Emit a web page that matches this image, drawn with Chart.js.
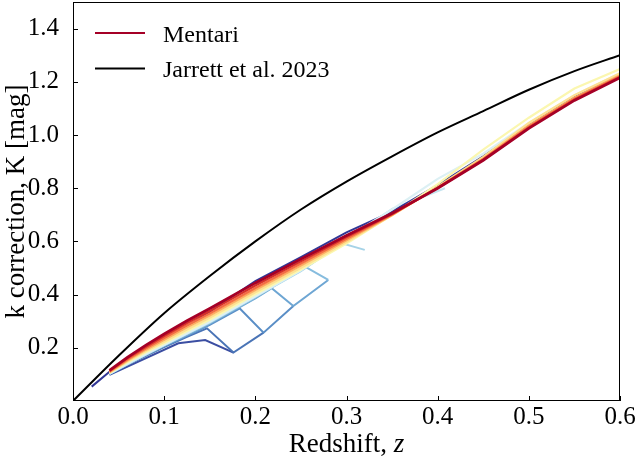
<!DOCTYPE html>
<html>
<head>
<meta charset="utf-8">
<script src="https://cdn.jsdelivr.net/npm/chart.js@4.4.1/dist/chart.umd.min.js"></script>
<style>
html,body{margin:0;padding:0;background:#fff}
#wrap{width:638px;height:464px}
</style>
</head>
<body>
<div id="wrap"><canvas id="kcorr"></canvas></div>
<script>
const SERIF = '"Liberation Serif", "DejaVu Serif", serif';

// Jarrett et al. 2023 relation
const jarrettZ = [0, 0.05, 0.1, 0.15, 0.2, 0.25, 0.3, 0.35, 0.4, 0.45, 0.5, 0.55, 0.6];
const jarrettK = [0, 0.17, 0.33, 0.47, 0.60, 0.72, 0.825, 0.92, 1.01, 1.09, 1.17, 1.24, 1.30];

// Mentari bundle, shared redshift grid
const zGrid = [0.04, 0.06, 0.08, 0.1, 0.125, 0.15, 0.2, 0.25, 0.3, 0.35, 0.4, 0.45, 0.5, 0.55, 0.6];
const kRed    = [0.115, 0.165, 0.210, 0.252, 0.302, 0.348, 0.444, 0.534, 0.622, 0.706, 0.800, 0.905, 1.025, 1.130, 1.215];
const kRed2   = [0.113, 0.161, 0.204, 0.244, 0.293, 0.338, 0.434, 0.525, 0.616, 0.703, 0.801, 0.907, 1.028, 1.133, 1.218];
const kOrange = [0.111, 0.157, 0.198, 0.237, 0.285, 0.329, 0.425, 0.517, 0.610, 0.701, 0.802, 0.909, 1.031, 1.136, 1.221];
const kApric  = [0.109, 0.153, 0.193, 0.230, 0.277, 0.321, 0.417, 0.509, 0.604, 0.699, 0.803, 0.912, 1.035, 1.140, 1.225];
const kSand   = [0.107, 0.149, 0.188, 0.223, 0.269, 0.313, 0.409, 0.501, 0.598, 0.698, 0.806, 0.918, 1.045, 1.150, 1.232];
const kPale   = [0.105, 0.146, 0.183, 0.217, 0.262, 0.305, 0.401, 0.494, 0.592, 0.700, 0.815, 0.945, 1.065, 1.175, 1.248];
const kIce    = [0.103, 0.142, 0.178, 0.211, 0.255, 0.298, 0.394, 0.492, 0.612, 0.720, 0.835, 0.930, 1.045, 1.150, 1.232];

// blue members (own redshift samples, incl. the drop-outs)
const navyZ = [0.0205, 0.04, 0.06, 0.08, 0.1, 0.125, 0.15, 0.2, 0.25, 0.3, 0.35, 0.4, 0.45, 0.5, 0.55, 0.6];
const navyK = [0.054, 0.110, 0.155, 0.195, 0.232, 0.280, 0.336, 0.451, 0.541, 0.634, 0.712, 0.812, 0.920, 1.040, 1.143, 1.224];
const blueAZ = [0.04, 0.1155, 0.145, 0.176];
const blueAK = [0.098, 0.217, 0.229, 0.182];
const blueBZ = [0.04, 0.06, 0.08, 0.1, 0.125, 0.147, 0.176, 0.209];
const blueBK = [0.100, 0.137, 0.170, 0.203, 0.241, 0.273, 0.182, 0.257];
const blueCZ = [0.04, 0.06, 0.08, 0.1, 0.125, 0.15, 0.183, 0.209, 0.2417];
const blueCK = [0.101, 0.138, 0.172, 0.205, 0.245, 0.286, 0.348, 0.257, 0.357];
const blueDZ = [0.04, 0.06, 0.08, 0.1, 0.125, 0.15, 0.2, 0.218, 0.2417, 0.28];
const blueDK = [0.101, 0.139, 0.174, 0.207, 0.248, 0.290, 0.386, 0.424, 0.357, 0.455];
const blueEZ = [0.04, 0.06, 0.08, 0.1, 0.125, 0.15, 0.2, 0.2545, 0.28];
const blueEK = [0.102, 0.140, 0.175, 0.209, 0.251, 0.293, 0.389, 0.505, 0.455];
const blueFZ = [0.04, 0.06, 0.08, 0.1, 0.125, 0.15, 0.2, 0.25, 0.295, 0.32];
const blueFK = [0.102, 0.140, 0.176, 0.210, 0.253, 0.295, 0.391, 0.488, 0.593, 0.568];
const blueGZ = [0.04, 0.1, 0.15, 0.2, 0.25, 0.3, 0.35, 0.408];
const blueGK = [0.103, 0.210, 0.297, 0.393, 0.490, 0.606, 0.722, 0.800];

const xTicks = [0, 0.1, 0.2, 0.3, 0.4, 0.5, 0.6];
const yTicks = [0.2, 0.4, 0.6, 0.8, 1.0, 1.2, 1.4];

const pts = (zs, ks) => ks.map((k, i) => ({x: zs[i], y: k}));
function line(data, color, width, label){
  return {label: label || '', data, borderColor: color, backgroundColor: color,
    borderWidth: width, pointRadius: 0, tension: 0, fill: false};
}

const datasets = [
  line(pts(zGrid, kRed), '#a50026', 2.8, 'Mentari'),
  Object.assign(line(pts(jarrettZ, jarrettK), '#000000', 2, 'Jarrett et al. 2023'), {cubicInterpolationMode: 'monotone'}),
  line(pts(zGrid, kRed2), '#d73027', 2.2),
  line(pts(zGrid, kOrange), '#f46d43', 2.2),
  line(pts(zGrid, kApric), '#fdae61', 2.2),
  line(pts(zGrid, kSand), '#fee090', 2.2),
  line(pts(zGrid, kPale), '#fbf7b0', 2.2),
  line(pts(zGrid, kIce), '#dcf0f4', 2.2),
  line(pts(navyZ, navyK), '#313695', 2),
  line(pts(blueGZ, blueGK), '#c4e4ef', 2),
  line(pts(blueFZ, blueFK), '#a6d3e7', 2),
  line(pts(blueEZ, blueEK), '#86bcde', 2),
  line(pts(blueDZ, blueDK), '#6ea6d3', 2),
  line(pts(blueCZ, blueCK), '#5a8ec6', 2),
  line(pts(blueBZ, blueBK), '#4a74b6', 2),
  line(pts(blueAZ, blueAK), '#3b4ea2', 2),
];

// frame, inward ticks, x title with italic z, legend
const decor = {
  id: 'decor',
  afterDraw(chart){
    const {ctx, chartArea: a, scales: {x, y}} = chart;
    ctx.save();
    ctx.strokeStyle = '#000'; ctx.lineWidth = 1;
    ctx.strokeRect(a.left + 0.5, a.top + 0.5, a.right - a.left - 1, a.bottom - a.top - 1);
    ctx.beginPath();
    xTicks.forEach(v => { const px = Math.round(x.getPixelForValue(v)) + 0.5; ctx.moveTo(px, a.bottom); ctx.lineTo(px, a.bottom - 5); });
    yTicks.forEach(v => { const py = Math.round(y.getPixelForValue(v)) + 0.5; ctx.moveTo(a.left, py); ctx.lineTo(a.left + 5, py); });
    ctx.stroke();

    ctx.fillStyle = '#000';
    ctx.textBaseline = 'alphabetic';
    ctx.textAlign = 'left';
    ctx.font = `27px ${SERIF}`;
    const t1 = 'Redshift, ';
    const w1 = ctx.measureText(t1).width;
    ctx.font = `italic 27px ${SERIF}`;
    const w2 = ctx.measureText('z').width;
    let sx = (a.left + a.right) / 2 - (w1 + w2) / 2;
    ctx.font = `27px ${SERIF}`;
    ctx.fillText(t1, sx, 452);
    ctx.font = `italic 27px ${SERIF}`;
    ctx.fillText('z', sx + w1, 452);

    ctx.font = `24px ${SERIF}`;
    chart.data.datasets.filter(d => d.label).forEach((d, i) => {
      const ly = 33 + i * 35.5;
      ctx.strokeStyle = d.borderColor; ctx.lineWidth = 2;
      ctx.beginPath(); ctx.moveTo(95, ly); ctx.lineTo(145, ly); ctx.stroke();
      ctx.fillText(d.label, 163, ly + 8.5);
    });
    ctx.restore();
  }
};

const noPad = s => { s.paddingTop = 0; s.paddingBottom = 0; s.paddingLeft = 0; s.paddingRight = 0; };

new Chart(document.getElementById('kcorr'), {
  type: 'line',
  data: {datasets},
  plugins: [decor],
  options: {
    responsive: true,
    maintainAspectRatio: false,
    animation: false,
    layout: {padding: {top: 2, right: 18, bottom: 0, left: 0}},
    plugins: {legend: {display: false}, tooltip: {enabled: false}},
    scales: {
      x: {
        type: 'linear', min: 0, max: 0.6,
        grid: {display: false}, border: {display: false},
        ticks: {stepSize: 0.1, autoSkip: false, maxRotation: 0, padding: -7, color: '#000',
          font: {family: SERIF, size: 25}, callback: v => v.toFixed(1)},
        afterFit: s => { s.height = 63; noPad(s); }
      },
      y: {
        min: 0, max: 1.5,
        grid: {display: false}, border: {display: false},
        ticks: {stepSize: 0.2, includeBounds: false, padding: 6, color: '#000',
          font: {family: SERIF, size: 25}, callback: v => (v < 0.01 ? '' : v.toFixed(1))},
        title: {display: true, text: 'k correction, K [mag]', color: '#000',
          font: {family: SERIF, size: 27}, padding: {top: 1, bottom: 0}},
        afterFit: s => { s.width = 73; noPad(s); }
      }
    }
  }
});
</script>
</body>
</html>
